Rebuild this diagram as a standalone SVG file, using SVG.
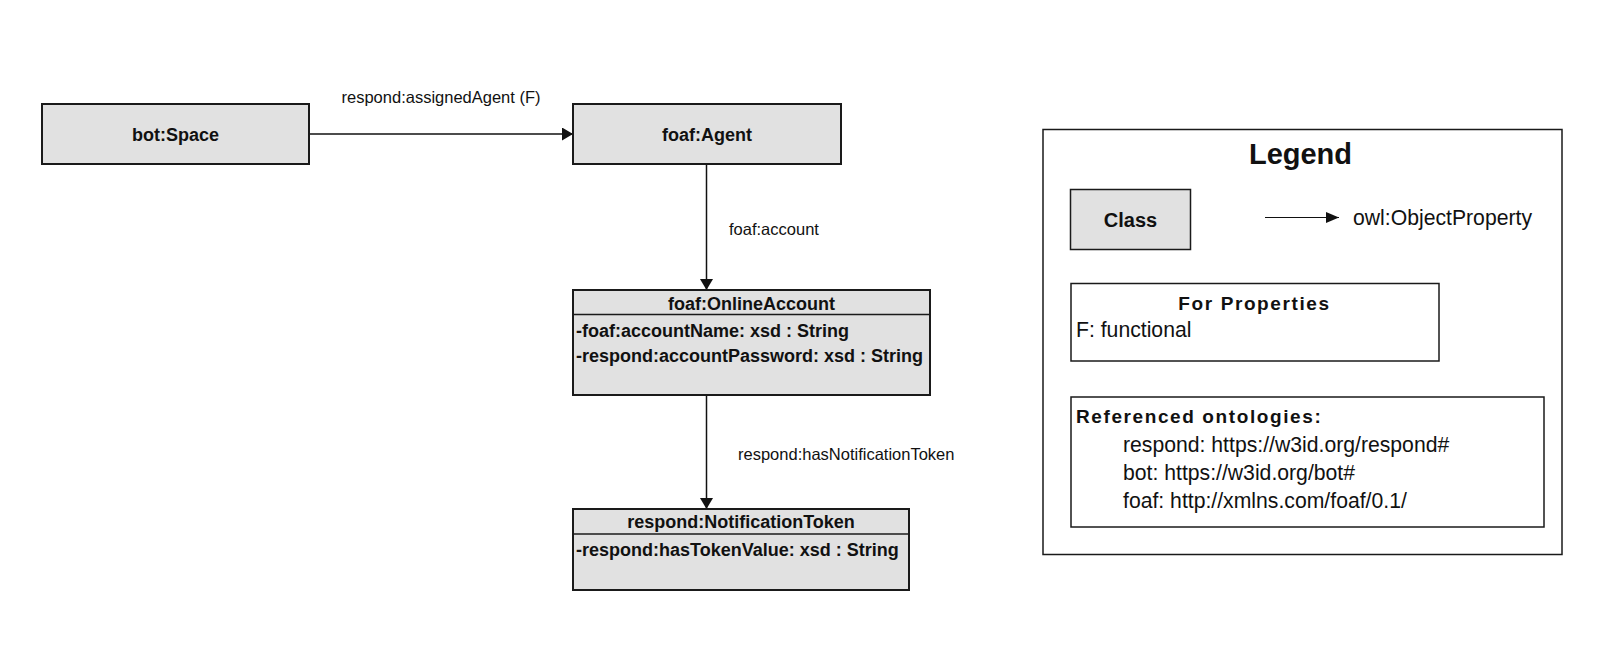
<svg xmlns="http://www.w3.org/2000/svg" width="1613" height="668" viewBox="0 0 1613 668">
  <defs>
    <marker id="arr" markerUnits="userSpaceOnUse" markerWidth="12" markerHeight="14" refX="11" refY="6.5" orient="auto">
      <path d="M0,0 L11,6.5 L0,13 z" fill="#111"/>
    </marker>
    <marker id="arrL" markerUnits="userSpaceOnUse" markerWidth="14" markerHeight="12" refX="13" refY="6" orient="auto">
      <path d="M0,0.5 L13,6 L0,11.5 z" fill="#111"/>
    </marker>
  </defs>
  <style>
    .cls { fill: #e1e1e1; stroke: #1a1a1a; stroke-width: 2; }
    .box { fill: #ffffff; stroke: #1a1a1a; stroke-width: 1.5; }
    .div { stroke: #1a1a1a; stroke-width: 1.5; }
    .conn { stroke: #111; stroke-width: 1.5; fill: none; }
    .t { font-family: "Liberation Sans", Arial, sans-serif; fill: #111; }
    .b18 { font-size: 18px; font-weight: bold; }
    .r16 { font-size: 16.5px; }
    .r21 { font-size: 21.2px; }
    .mid { text-anchor: middle; }
  </style>
  <rect width="1613" height="668" fill="#ffffff"/>

  <g id="connectors">
    <line class="conn" x1="309" y1="134" x2="573" y2="134" marker-end="url(#arr)"/>
    <text class="t r16" x="341.5" y="103">respond:assignedAgent (F)</text>
    <line class="conn" x1="706.5" y1="164" x2="706.5" y2="290" marker-end="url(#arr)"/>
    <text class="t r16" x="729" y="235">foaf:account</text>
    <line class="conn" x1="706.5" y1="395" x2="706.5" y2="509" marker-end="url(#arr)"/>
    <text class="t r16" x="738" y="460">respond:hasNotificationToken</text>
  </g>

  <g id="bot-space">
    <rect class="cls" x="42" y="104" width="267" height="60"/>
    <text class="t b18 mid" x="175.5" y="141">bot:Space</text>
  </g>

  <g id="foaf-agent">
    <rect class="cls" x="573" y="104" width="268" height="60"/>
    <text class="t b18 mid" x="707" y="141">foaf:Agent</text>
  </g>

  <g id="foaf-onlineaccount">
    <rect class="cls" x="573" y="290" width="357" height="105"/>
    <line class="div" x1="573" y1="314.5" x2="930" y2="314.5"/>
    <text class="t b18 mid" x="751.5" y="310">foaf:OnlineAccount</text>
    <text class="t b18" x="576" y="337">-foaf:accountName: xsd : String</text>
    <text class="t b18" x="576" y="362">-respond:accountPassword: xsd : String</text>
  </g>

  <g id="respond-notificationtoken">
    <rect class="cls" x="573" y="509" width="336" height="81"/>
    <line class="div" x1="573" y1="534" x2="909" y2="534"/>
    <text class="t b18 mid" x="741" y="528">respond:NotificationToken</text>
    <text class="t b18" x="576" y="556">-respond:hasTokenValue: xsd : String</text>
  </g>

  <g id="legend">
    <rect class="box" x="1043" y="129.5" width="519" height="425"/>
    <text class="t mid" x="1300.5" y="164" style="font-size:29px;font-weight:bold">Legend</text>
    <g id="legend-class">
      <rect class="cls" x="1070.5" y="189.5" width="120" height="60" style="stroke-width:1.5"/>
      <text class="t mid" x="1130.5" y="227" style="font-size:20px;font-weight:bold">Class</text>
    </g>
    <g id="legend-property">
      <line class="conn" x1="1265" y1="217.5" x2="1339" y2="217.5" style="stroke-width:1" marker-end="url(#arrL)"/>
      <text class="t r21" x="1353" y="225">owl:ObjectProperty</text>
    </g>
    <g id="legend-for-properties">
      <rect class="box" x="1071" y="283.5" width="368" height="77.5"/>
      <text class="t mid" x="1254.5" y="310" style="font-size:19px;font-weight:bold;letter-spacing:1.6px">For Properties</text>
      <text class="t r21" x="1076" y="337">F: functional</text>
    </g>
    <g id="legend-ontologies">
      <rect class="box" x="1071" y="397" width="473" height="130"/>
      <text class="t" x="1076" y="423" style="font-size:19px;font-weight:bold;letter-spacing:1.6px">Referenced ontologies:</text>
      <text class="t r21" x="1123" y="452">respond: https://w3id.org/respond#</text>
      <text class="t r21" x="1123" y="480">bot: https://w3id.org/bot#</text>
      <text class="t r21" x="1123" y="508">foaf: http://xmlns.com/foaf/0.1/</text>
    </g>
  </g>
</svg>
